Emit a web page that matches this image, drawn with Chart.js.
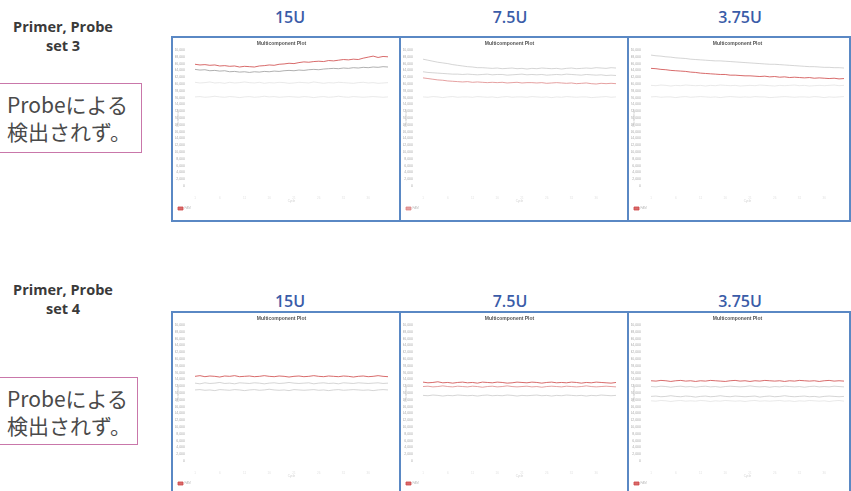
<!DOCTYPE html>
<html>
<head>
<meta charset="utf-8">
<script src="https://cdn.jsdelivr.net/npm/chart.js@4.4.1/dist/chart.umd.min.js"></script>
<style>
  html, body { margin: 0; padding: 0; }
  body { width: 851px; height: 491px; overflow: hidden; position: relative; background: #fff; }
  .lbl { position: absolute; font-family: "Open Sans", "Liberation Sans", sans-serif; font-weight: 700; color: #3a3a3a; font-size: 14.5px; text-align: center; width: 130px; line-height: 19px; }
  .hdr { position: absolute; font-family: "Open Sans", "Liberation Sans", sans-serif; font-weight: 600; color: #3a5ca8; font-size: 16px; text-align: center; width: 80px; line-height: 20px; }
  .box { position: absolute; border: 1.5px solid #c977aa; box-sizing: border-box; font-family: "Noto Sans CJK JP", sans-serif; font-size: 21px; line-height: 27px; color: #4a4a4a; padding: 7px 0 0 8px; white-space: nowrap; }
  .panel { position: absolute; border: 2px solid #5a88c4; box-sizing: border-box; overflow: hidden; background: #fff; }
  .panel canvas { position: absolute; left: 0; top: 0; }
</style>
</head>
<body>
<script>
// ---------------- data (values in thousands of fluorescence units) ----------------
const cycles = ["1","2","3","4","5","6","7","8","9","10","11","12","13","14","15","16","17","18","19","20",
                "21","22","23","24","25","26","27","28","29","30","31","32","33","34","35","36","37","38","39","40"];
const panelTitle = "Multicomponent Plot";
const colHeaders = ["15U", "7.5U", "3.75U"];
const rowLabels = ["Primer, Probe\nset 3", "Primer, Probe\nset 4"];
const noteText = "Probeによる\n検出されず。";
const yMin = 0, yMax = 40, yStep = 2;

// set 3, 15U
const s3u15Red   = [35.8,35.6,35.7,35.5,35.6,35.3,35.4,35.2,35.3,35.0,35.2,35.1,35.0,35.3,35.4,35.6,35.5,35.8,35.9,36.1,36.0,36.3,36.5,36.4,36.6,36.7,36.6,36.9,36.8,37.0,37.2,37.1,37.3,37.2,37.6,37.9,38.2,37.8,38.1,38.0];
const s3u15Grey  = [34.3,34.1,34.2,33.9,34.0,33.8,33.9,33.6,33.7,33.5,33.6,33.4,33.6,33.5,33.7,33.6,33.8,33.7,33.9,34.0,33.9,34.1,34.0,34.2,34.3,34.2,34.4,34.5,34.6,34.5,34.7,34.6,34.8,34.7,34.9,34.8,35.0,34.9,35.1,35.0];
const s3u15FaintA= [30.5,30.3,30.4,30.6,30.3,30.4,30.2,30.5,30.3,30.4,30.6,30.4,30.3,30.5,30.2,30.4,30.3,30.5,30.4,30.2,30.3,30.5,30.4,30.3,30.6,30.4,30.2,30.4,30.3,30.5,30.4,30.3,30.2,30.4,30.5,30.3,30.4,30.2,30.3,30.4];
const s3u15FaintB= [26.2,26.3,26.1,26.2,26.4,26.2,26.1,26.3,26.2,26.0,26.2,26.3,26.1,26.2,26.4,26.2,26.3,26.1,26.2,26.3,26.2,26.1,26.3,26.2,26.0,26.2,26.3,26.1,26.2,26.4,26.2,26.1,26.3,26.2,26.1,26.2,26.3,26.2,26.1,26.2];
// set 3, 7.5U
const s3u75A     = [37.3,37.0,36.7,36.4,36.2,36.0,35.7,35.5,35.3,35.1,35.0,34.8,34.8,34.7,34.6,34.7,34.5,34.6,34.7,34.5,34.6,34.4,34.6,34.5,34.7,34.6,34.5,34.6,34.4,34.6,34.7,34.5,34.6,34.7,34.6,34.8,34.7,34.6,34.8,34.7];
const s3u75B     = [33.6,33.4,33.3,33.2,33.1,33.0,32.9,32.9,32.8,32.9,32.8,32.7,32.8,32.9,32.7,32.8,32.8,32.6,32.7,32.8,32.9,32.7,32.8,32.7,32.8,32.6,32.7,32.8,32.7,32.9,32.8,32.7,32.6,32.8,32.7,32.6,32.7,32.5,32.6,32.5];
const s3u75C     = [31.8,31.6,31.4,31.2,31.1,30.9,30.8,30.7,30.6,30.7,30.5,30.6,30.5,30.4,30.5,30.4,30.5,30.3,30.4,30.5,30.3,30.4,30.4,30.3,30.4,30.2,30.3,30.4,30.3,30.2,30.3,30.1,30.2,30.3,30.1,30.0,30.2,30.1,30.2,30.1];
const s3u75Faint = [26.2,26.1,26.3,26.2,26.0,26.2,26.3,26.1,26.2,26.2,26.1,26.3,26.2,26.1,26.2,26.0,26.2,26.3,26.1,26.2,26.2,26.1,26.3,26.2,26.1,26.2,26.0,26.2,26.1,26.3,26.2,26.1,26.2,26.2,26.0,26.1,26.2,26.3,26.1,26.2];
// set 3, 3.75U
const s3u375Grey = [38.5,38.3,38.2,38.0,37.9,37.7,37.6,37.5,37.3,37.2,37.1,37.0,36.9,36.8,36.8,36.7,36.6,36.5,36.4,36.3,36.2,36.1,36.0,35.9,35.8,35.8,35.7,35.6,35.5,35.4,35.3,35.2,35.1,35.1,35.0,34.9,34.9,34.8,34.8,34.7];
const s3u375Red  = [34.6,34.5,34.3,34.2,34.0,33.9,33.8,33.7,33.5,33.4,33.2,33.1,33.0,32.9,32.8,32.8,32.6,32.6,32.5,32.4,32.4,32.3,32.2,32.3,32.1,32.2,32.0,32.1,31.9,32.0,31.9,31.8,31.9,31.7,31.8,31.7,31.6,31.7,31.5,31.6];
const s3u375FaintA=[29.6,29.5,29.7,29.6,29.4,29.6,29.5,29.7,29.6,29.5,29.6,29.4,29.6,29.5,29.7,29.6,29.5,29.6,29.4,29.5,29.6,29.5,29.7,29.6,29.5,29.4,29.6,29.5,29.6,29.7,29.5,29.6,29.4,29.5,29.6,29.5,29.6,29.7,29.5,29.6];
const s3u375FaintB=[26.2,26.3,26.1,26.2,26.2,26.0,26.2,26.3,26.1,26.2,26.3,26.2,26.1,26.2,26.0,26.2,26.3,26.2,26.1,26.2,26.1,26.3,26.2,26.2,26.0,26.1,26.2,26.3,26.2,26.1,26.2,26.2,26.1,26.3,26.2,26.0,26.2,26.1,26.2,26.3];
// set 4, 15U
const s4u15Red   = [24.9,25.1,24.8,25.0,24.9,24.7,25.0,24.9,25.1,24.8,24.9,25.0,24.8,24.9,25.1,24.9,24.8,25.0,24.9,24.7,24.9,25.0,24.8,24.9,25.1,24.9,24.8,25.0,24.9,24.8,25.0,24.9,24.7,24.9,25.0,24.8,24.9,25.1,24.9,24.8];
const s4u15GreyA = [22.9,22.7,23.0,22.8,22.9,23.1,22.8,22.9,22.7,23.0,22.9,22.8,23.0,22.9,22.7,22.9,23.0,22.8,22.9,23.1,22.9,22.8,22.9,23.0,22.7,22.9,23.0,22.8,22.9,22.7,23.0,22.9,22.8,23.0,22.9,22.8,22.9,23.0,22.8,22.9];
const s4u15GreyB = [20.9,21.0,20.8,20.9,20.7,21.0,20.9,20.8,21.0,20.9,20.7,20.9,21.0,20.8,20.9,21.1,20.9,20.8,20.9,20.7,21.0,20.9,20.8,20.9,21.0,20.8,20.9,20.7,20.9,21.0,20.8,20.9,21.0,20.9,20.8,20.9,20.7,20.9,21.0,20.9];
// set 4, 7.5U
const s4u75Red   = [23.2,23.0,23.1,23.3,23.0,23.1,22.9,23.1,23.2,23.0,23.1,22.9,23.2,23.1,23.0,23.2,23.1,22.9,23.0,23.2,23.1,23.0,23.2,23.1,22.9,23.1,23.2,23.0,23.1,23.0,23.2,23.1,22.9,23.1,23.0,23.2,23.1,23.0,22.9,23.1];
const s4u75Pink  = [21.9,22.0,21.8,21.9,22.1,21.9,21.8,22.0,21.9,21.8,22.0,21.9,21.7,21.9,22.0,21.8,21.9,22.1,21.9,21.8,21.9,22.0,21.8,21.9,21.7,21.9,22.0,21.9,21.8,22.0,21.9,21.8,21.9,22.1,21.9,21.8,21.9,22.0,21.9,21.8];
const s4u75Grey  = [19.3,19.2,19.4,19.3,19.1,19.3,19.2,19.4,19.3,19.2,19.3,19.1,19.3,19.4,19.2,19.3,19.2,19.4,19.3,19.1,19.3,19.2,19.3,19.4,19.2,19.3,19.1,19.3,19.2,19.4,19.3,19.2,19.3,19.1,19.3,19.2,19.4,19.3,19.2,19.3];
// set 4, 3.75U
const s4u375Red  = [23.6,23.5,23.7,23.6,23.4,23.6,23.7,23.5,23.6,23.4,23.6,23.5,23.7,23.6,23.5,23.4,23.6,23.7,23.5,23.6,23.4,23.6,23.5,23.7,23.6,23.5,23.6,23.4,23.6,23.5,23.7,23.6,23.5,23.6,23.4,23.6,23.7,23.5,23.6,23.5];
const s4u375GreyA= [21.9,21.8,22.0,21.9,21.7,21.9,22.0,21.8,21.9,21.7,21.9,22.0,21.8,21.9,21.7,21.9,22.0,21.9,21.8,21.9,22.1,21.9,21.8,21.9,21.7,21.9,21.8,22.0,21.9,21.8,21.9,21.7,21.9,22.0,21.8,21.9,21.8,22.0,21.9,21.8];
const s4u375GreyB= [19.0,19.1,18.9,19.0,19.2,19.0,18.9,19.1,19.0,18.8,19.0,19.1,18.9,19.0,19.2,19.0,18.9,19.1,19.0,18.9,19.0,19.1,18.8,19.0,19.1,18.9,19.0,19.2,19.0,18.9,19.0,19.1,18.9,19.0,18.8,19.0,19.1,19.0,18.9,19.0];
const s4u375GreyC= [17.7,17.6,17.8,17.7,17.5,17.7,17.8,17.6,17.7,17.6,17.8,17.7,17.5,17.7,17.6,17.8,17.7,17.6,17.7,17.5,17.7,17.8,17.6,17.7,17.6,17.7,17.8,17.6,17.7,17.5,17.7,17.6,17.8,17.7,17.6,17.7,17.5,17.7,17.8,17.6];

// ---------------- layout ----------------
const RED = "rgba(206,70,70,0.8)", PINK = "rgba(220,130,130,0.75)", GREY = "rgba(150,150,150,0.75)", LGREY = "rgba(185,185,185,0.6)", FAINT = "rgba(215,215,215,0.55)";

function ds(label, data, color) {
  return { label: label, data: data, borderColor: color, backgroundColor: color, borderWidth: 1, pointRadius: 0, tension: 0 };
}

const panels = [
  { left: 171, top: 36, w: 230, h: 186, sets: [ds("FAM", s3u15Red, RED), ds("ROX", s3u15Grey, GREY), ds("A", s3u15FaintA, FAINT), ds("B", s3u15FaintB, FAINT)] },
  { left: 399, top: 36, w: 230, h: 186, sets: [ds("FAM", s3u75C, PINK), ds("ROX", s3u75A, LGREY), ds("A", s3u75B, LGREY), ds("B", s3u75Faint, FAINT)] },
  { left: 627, top: 36, w: 224, h: 186, sets: [ds("FAM", s3u375Red, RED), ds("ROX", s3u375Grey, LGREY), ds("A", s3u375FaintA, FAINT), ds("B", s3u375FaintB, FAINT)] },
  { left: 171, top: 311, w: 230, h: 200, sets: [ds("FAM", s4u15Red, RED), ds("ROX", s4u15GreyA, LGREY), ds("A", s4u15GreyB, LGREY)] },
  { left: 399, top: 311, w: 230, h: 200, sets: [ds("FAM", s4u75Red, RED), ds("ROX", s4u75Pink, PINK), ds("A", s4u75Grey, LGREY)] },
  { left: 627, top: 311, w: 224, h: 200, sets: [ds("FAM", s4u375Red, RED), ds("ROX", s4u375GreyA, LGREY), ds("A", s4u375GreyB, LGREY), ds("B", s4u375GreyC, FAINT)] }
];

function addDiv(cls, x, y, html, extra) {
  const d = document.createElement("div");
  d.className = cls;
  d.style.left = x + "px"; d.style.top = y + "px";
  d.innerHTML = html;
  if (extra) Object.assign(d.style, extra);
  document.body.appendChild(d);
  return d;
}

// headers
const hdrX = [250, 470, 700];
colHeaders.forEach((t, i) => { addDiv("hdr", hdrX[i], 7, t); addDiv("hdr", hdrX[i], 291, t); });
// row labels
rowLabels.forEach((t, i) => addDiv("lbl", -2, i === 0 ? 17 : 280, t.replace("\n", "<br>")));
// note boxes
addDiv("box", -2, 83, noteText.replace("\n", "<br>"), { width: "144px", height: "70px" });
addDiv("box", -2, 377, noteText.replace("\n", "<br>"), { width: "140px", height: "68px" });

panels.forEach((p) => {
  const d = document.createElement("div");
  d.className = "panel";
  Object.assign(d.style, { left: p.left + "px", top: p.top + "px", width: p.w + "px", height: p.h + "px" });
  const c = document.createElement("canvas");
  c.width = 226; c.height = 182;
  c.style.width = "226px"; c.style.height = "182px";
  d.appendChild(c);
  document.body.appendChild(d);
  new Chart(c.getContext("2d"), {
    type: "line",
    data: { labels: cycles, datasets: p.sets },
    options: {
      responsive: false, animation: false, devicePixelRatio: 1,
      layout: { padding: { left: 2, right: 11, top: 2, bottom: 0 } },
      plugins: {
        title: { display: true, text: panelTitle, color: "#555", font: { family: "Liberation Sans", size: 5, weight: "bold" }, padding: { top: 1, bottom: 3 } },
        legend: { display: true, position: "bottom", align: "start",
          labels: { boxWidth: 5, boxHeight: 3, padding: 3, color: "#bbb", font: { size: 3 }, filter: (it) => it.datasetIndex === 0 } },
        tooltip: { enabled: false }
      },
      scales: {
        x: { grid: { display: false }, border: { display: false },
             ticks: { color: "#e2e2e2", font: { size: 3 }, maxRotation: 0, autoSkip: true, maxTicksLimit: 9, padding: 2 },
             title: { display: true, text: "Cycle", color: "#d0d0d0", font: { size: 3 }, padding: 1 },
             afterFit: (a) => { a.height = 18; } },
        y: { min: yMin, max: yMax, grid: { display: false }, border: { display: false },
             ticks: { stepSize: yStep, autoSkip: false, color: "#aaa", font: { size: 3.5 }, padding: 2,
                      callback: (v) => (v * 1000).toLocaleString("en-US") },
             title: { display: true, text: "Fluorescence", color: "#ccc", font: { size: 3 }, padding: 1 },
             afterFit: (a) => { a.width = 20; } }
      }
    }
  });
});
</script>
</body>
</html>
